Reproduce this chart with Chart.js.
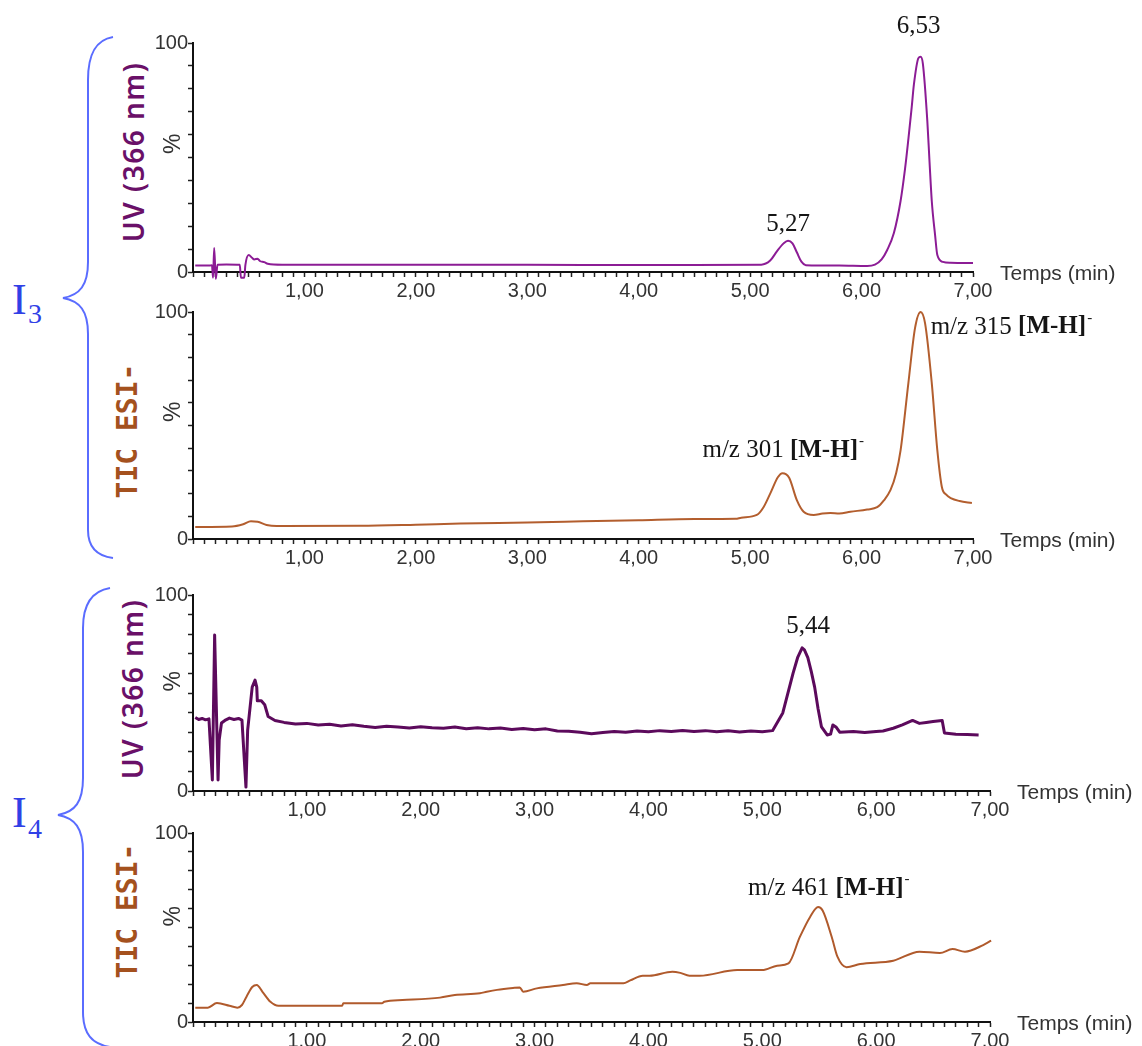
<!DOCTYPE html>
<html>
<head>
<meta charset="utf-8">
<script src="https://cdn.jsdelivr.net/npm/chart.js@4.4.1/dist/chart.umd.min.js"></script>
<style>
  html, body { margin: 0; padding: 0; background: #fff; }
  body { width: 1142px; height: 1046px; position: relative; overflow: hidden; }
  canvas { position: absolute; left: 140px; }
  .ytitle { position: absolute; transform: translate(-50%, -50%) rotate(-90deg); white-space: nowrap; line-height: 1; }
  .uv { font-family: 'Noto Sans', sans-serif; font-size: 28px; font-weight: 600; letter-spacing: 1.5px; color: #6a1068; }
  .tic { font-family: 'DejaVu Sans Mono', monospace; font-size: 28px; font-weight: bold; color: #a4511e; }
  .iname { position: absolute; font-family: 'Liberation Serif', serif; color: #3040e6; line-height: 1; }
</style>
</head>
<body>

<svg width="140" height="1046" style="position:absolute;left:0;top:0">
  <path d="M113,37 C95,40 88,55 88,80 L88,262 C88,285 80,295 63,298 C80,301 88,311 88,334 L88,530 C88,548 97,556 113,558"
        fill="none" stroke="#5a6cff" stroke-width="2"/>
  <path d="M110,588 C92,591 83,604 83,628 L83,778 C83,802 75,812 58,815 C75,818 83,828 83,852 L83,1012 C83,1034 92,1044 110,1047"
        fill="none" stroke="#5a6cff" stroke-width="2"/>
</svg>

<span class="iname" style="left:12px;top:278px;font-size:44px">I</span>
<span class="iname" style="left:28px;top:300px;font-size:28px">3</span>
<span class="iname" style="left:12px;top:791px;font-size:44px">I</span>
<span class="iname" style="left:28px;top:815px;font-size:28px">4</span>

<div class="ytitle uv" style="left:133px;top:152px">UV (366 nm)</div>
<div class="ytitle tic" style="left:128px;top:431px">TIC ESI-</div>
<div class="ytitle uv" style="left:132px;top:689px">UV (366 nm)</div>
<div class="ytitle tic" style="left:128px;top:911px">TIC ESI-</div>

<canvas id="i3uv" width="1000" height="310" style="top:0px"></canvas>
<canvas id="i3tic" width="1000" height="285" style="top:295px"></canvas>
<canvas id="i4uv" width="1000" height="250" style="top:575px"></canvas>
<canvas id="i4tic" width="1000" height="231" style="top:815px"></canvas>

<script>
// axis labels
const timeTickLabels = ['1,00', '2,00', '3,00', '4,00', '5,00', '6,00', '7,00'];
const pctTickLabels = { 0: '0', 100: '100' };

// I3 - UV (366 nm)
const i3UvTime = [0.02, 0.15, 0.17, 0.18, 0.19, 0.205, 0.22, 0.30, 0.42, 0.43, 0.46, 0.47, 0.50, 0.53, 0.55, 0.58,
  0.60, 0.64, 0.67, 0.80, 1.5, 2.5, 3.5, 4.5, 5.10, 5.18, 5.24, 5.30, 5.34, 5.38, 5.42, 5.46, 5.50, 5.80, 6.05,
  6.12, 6.18, 6.23, 6.29, 6.35, 6.39, 6.42, 6.45, 6.47, 6.51, 6.53, 6.55, 6.59, 6.61, 6.63, 6.66, 6.68, 6.73, 6.80, 7.0];
const i3UvPct = [2.8, 2.8, 3.0, -2.5, 10.5, -3.0, 3.2, 3.3, 3.2, -2.5, -2.5, 3.0, 7.4, 6.2, 5.5, 5.8,
  4.8, 4.3, 3.6, 3.2, 3.2, 3.2, 3.1, 3.1, 3.2, 5.0, 9.0, 12.5, 13.7, 12.5, 8.5, 4.5, 3.0, 2.8, 2.6,
  3.2, 5.5, 9.6, 17, 31, 45, 58, 72, 82, 93.4, 94, 91, 66, 48, 31, 16, 7.4, 4.4, 4.0, 3.9];
const i3UvPeakTimes = [5.34, 6.53];
const i3UvPeakLabels = ['5,27', '6,53'];

// I3 - TIC ESI-
const i3TicTime = [0.02, 0.35, 0.45, 0.52, 0.58, 0.66, 0.75, 1.5, 2.0, 2.4, 3.0, 3.5, 4.0, 4.5, 4.87, 4.92, 5.06,
  5.12, 5.18, 5.25, 5.29, 5.35, 5.42, 5.48, 5.57, 5.65, 5.72, 5.80, 5.90, 6.05, 6.14, 6.20, 6.26, 6.31, 6.35,
  6.42, 6.48, 6.53, 6.57, 6.63, 6.68, 6.72, 6.76, 6.80, 6.88, 6.99];
const i3TicPct = [5.3, 5.5, 6.5, 7.8, 7.6, 6.2, 5.7, 5.8, 6.3, 6.8, 7.3, 7.8, 8.3, 8.8, 8.9, 9.4, 10.6,
  14, 20, 27.3, 29, 27, 17, 12, 10.6, 11.2, 11.4, 11.2, 12, 13, 14, 17, 21.6, 29, 39,
  68.7, 93, 100, 95, 68.7, 39, 23, 19.5, 18, 16.7, 15.9];
const i3TicPeakTimes = [5.29, 6.53];
const i3TicPeakIons = ['m/z 301 ', 'm/z 315 '];

// I4 - UV (366 nm)
const i4UvTime = [0.02, 0.05, 0.08, 0.11, 0.14, 0.17, 0.19, 0.22, 0.23, 0.25, 0.28, 0.32, 0.36, 0.40, 0.43,
  0.465, 0.48, 0.52, 0.545, 0.56, 0.565, 0.60, 0.63, 0.66, 0.72, 0.80, 0.90, 1.0, 1.1, 1.2, 1.3, 1.4, 1.5,
  1.6, 1.7, 1.8, 1.9, 2.0, 2.1, 2.2, 2.3, 2.4, 2.5, 2.6, 2.7, 2.8, 2.9, 3.0, 3.1, 3.2, 3.3, 3.4, 3.5, 3.6,
  3.7, 3.8, 3.9, 4.0, 4.1, 4.2, 4.3, 4.4, 4.5, 4.6, 4.7, 4.8, 4.9, 5.0, 5.09, 5.18, 5.27, 5.31, 5.35, 5.37,
  5.40, 5.43, 5.46, 5.49, 5.52, 5.57, 5.60, 5.62, 5.65, 5.68, 5.80, 5.90, 6.0, 6.06, 6.15, 6.23, 6.32,
  6.38, 6.44, 6.50, 6.58, 6.60, 6.70, 6.80, 6.90];
const i4UvPct = [37.5, 36.5, 37.0, 36.3, 36.8, 5.6, 79.6, 5.6, 26, 34.7, 36, 37.2, 36.5, 37, 36.2,
  2, 31, 53, 56.6, 53, 46, 46, 44, 38, 36, 35, 34.2, 34.5, 33.7, 34, 33.2, 33.8, 33,
  32.4, 33, 32.7, 32.2, 32.8, 32.3, 32, 32.6, 31.8, 32.3, 31.7, 32.1, 31.4, 31.9, 31.2, 31.7, 30.6, 30.5, 30.0, 29.2, 29.8,
  30.4, 30.0, 30.6, 30.2, 30.8, 30.3, 30.9, 30.4, 30.8, 30.2, 30.7, 30.1, 30.6, 30.2, 30.8, 39.8, 60, 68, 73, 72,
  68, 61, 53, 42, 32.7, 28.6, 29, 33.7, 32.5, 30, 30.3, 29.8, 30.4, 30.6, 32, 33.7, 36,
  34.5, 35, 35.5, 36, 29.6, 29, 28.8, 28.6];
const i4UvPeakTimes = [5.35];
const i4UvPeakLabels = ['5,44'];

// I4 - TIC ESI-
const i4TicTime = [0.02, 0.13, 0.21, 0.32, 0.39, 0.43, 0.47, 0.52, 0.56, 0.61, 0.68, 0.75, 1.31, 1.32, 1.66,
  1.68, 1.84, 2.17, 2.30, 2.52, 2.58, 2.67, 2.81, 2.87, 2.90, 3.02, 3.25, 3.37, 3.46, 3.49, 3.78, 3.84, 3.95,
  4.01, 4.21, 4.28, 4.36, 4.45, 4.78, 5.0, 5.13, 5.23, 5.33, 5.42, 5.49, 5.53, 5.61, 5.66, 5.74, 5.86, 6.15,
  6.38, 6.56, 6.67, 6.78, 6.94, 7.01];
const i4TicPct = [7.6, 7.6, 10, 8.6, 7.6, 9, 13.4, 18.5, 19.6, 16, 10.7, 8.6, 8.6, 9.9, 9.9,
  10.7, 11.6, 12.9, 14.3, 15.2, 16, 17, 18, 18.3, 16, 17.8, 19.6, 20.5, 19.6, 20.5, 20.5, 22, 24.5,
  24.5, 26.6, 26.0, 24.5, 24.5, 27.5, 27.5, 29.8, 31, 45, 55.6, 60.8, 59, 45, 34.6, 29, 30.7, 32.4,
  37.2, 36.5, 38.6, 37.2, 40.7, 43];
const i4TicPeakTimes = [5.49];
const i4TicPeakIons = ['m/z 461 '];

function formatTime(v) {
  const r = Math.round(v);
  if (Math.abs(v - r) > 1e-6 || r < 1) return '';
  return timeTickLabels[r - 1];
}

function formatPct(v) {
  return pctTickLabels[Math.round(v)] || '';
}

const chromLabels = {
  id: 'chromLabels',
  afterDatasetsDraw(chart, args, opts) {
    const { ctx, chartArea, scales: { x, y } } = chart;
    const ds = chart.data.datasets[0].data;
    ctx.save();
    ctx.fillStyle = '#333';
    ctx.textBaseline = 'middle';

    // % on the y axis
    ctx.save();
    ctx.translate(chartArea.left - 19, y.getPixelForValue(56));
    ctx.rotate(-Math.PI / 2);
    ctx.textAlign = 'center';
    ctx.font = '23px "Liberation Sans"';
    ctx.fillText('%', 0, 0);
    ctx.restore();

    // time axis title
    ctx.textAlign = 'left';
    ctx.font = '21px "Liberation Sans"';
    ctx.fillText('Temps (min)', chartArea.right + 27, chartArea.bottom + 2);

    // peak labels
    ctx.fillStyle = '#151515';
    (opts.peaks || []).forEach(p => {
      let best = ds[0];
      ds.forEach(d => { if (Math.abs(d.x - p.t) < Math.abs(best.x - p.t)) best = d; });
      const px = x.getPixelForValue(best.x) + p.dx;
      const py = y.getPixelForValue(best.y) + p.dy;
      const fontOf = part => part.sup ? '15px "Liberation Serif"'
        : (part.bold ? 'bold 25px "Liberation Serif"' : '25px "Liberation Serif"');
      let total = 0;
      p.parts.forEach(part => { ctx.font = fontOf(part); total += ctx.measureText(part.text).width; });
      let cx = p.align === 'center' ? px - total / 2 : px;
      p.parts.forEach(part => {
        ctx.font = fontOf(part);
        ctx.fillText(part.text, cx, part.sup ? py - 9 : py);
        cx += ctx.measureText(part.text).width + (part.bold ? 1 : 0);
      });
    });
    ctx.restore();
  }
};

function ionParts(ion) {
  return [{ text: ion }, { text: '[M-H]', bold: true }, { text: '-', sup: true }];
}

function makeChart(id, times, values, color, width, smooth, box, peaks) {
  const ctx = document.getElementById(id).getContext('2d');
  return new Chart(ctx, {
    type: 'line',
    data: {
      datasets: [{
        data: times.map((t, i) => ({ x: t, y: values[i] })),
        borderColor: color,
        borderWidth: width,
        pointRadius: 0,
        tension: 0,
        cubicInterpolationMode: smooth ? 'monotone' : 'default',
        borderJoinStyle: 'round',
        fill: false,
        clip: false
      }]
    },
    options: {
      responsive: false,
      animation: false,
      devicePixelRatio: 1,
      layout: { padding: { top: box.top, right: box.right, left: 0, bottom: 0 } },
      plugins: { legend: { display: false }, tooltip: { enabled: false }, chromLabels: { peaks } },
      scales: {
        x: {
          type: 'linear',
          min: 0,
          max: 7,
          afterFit: s => { s.height = box.xh; },
          border: { color: '#111', width: 2 },
          grid: { drawOnChartArea: false, drawTicks: true, tickLength: 5, color: '#222', tickWidth: 1.5 },
          ticks: {
            stepSize: 0.1,
            autoSkip: false,
            maxRotation: 0,
            minRotation: 0,
            padding: 2,
            color: '#333',
            font: { family: 'Liberation Sans', size: 20 },
            callback: formatTime
          }
        },
        y: {
          min: 0,
          max: 100,
          afterFit: s => { s.width = 53; },
          border: { color: '#111', width: 2 },
          grid: { drawOnChartArea: false, drawTicks: true, tickLength: 5, color: '#222', tickWidth: 1.5 },
          ticks: {
            stepSize: 10,
            autoSkip: false,
            padding: 0,
            color: '#333',
            font: { family: 'Liberation Sans', size: 20 },
            callback: formatPct
          }
        }
      }
    },
    plugins: [chromLabels]
  });
}

makeChart('i3uv', i3UvTime, i3UvPct, '#8c1c95', 2, true, { top: 43, right: 167, xh: 38 }, [
  { t: i3UvPeakTimes[0], parts: [{ text: i3UvPeakLabels[0] }], dx: 0, dy: -16, align: 'center' },
  { t: i3UvPeakTimes[1], parts: [{ text: i3UvPeakLabels[1] }], dx: -2, dy: -30, align: 'center' }
]);

makeChart('i3tic', i3TicTime, i3TicPct, '#b35e2e', 2, true, { top: 17, right: 167, xh: 41 }, [
  { t: i3TicPeakTimes[0], parts: ionParts(i3TicPeakIons[0]), dx: -80, dy: -23, align: 'left' },
  { t: i3TicPeakTimes[1], parts: ionParts(i3TicPeakIons[1]), dx: 10, dy: 15, align: 'left' }
]);

makeChart('i4uv', i4UvTime, i4UvPct, '#5c0a5c', 3, false, { top: 20, right: 150, xh: 34 }, [
  { t: i4UvPeakTimes[0], parts: [{ text: i4UvPeakLabels[0] }], dx: 6, dy: -21, align: 'center' }
]);

makeChart('i4tic', i4TicTime, i4TicPct, '#b05a2c', 2, true, { top: 18, right: 150, xh: 24 }, [
  { t: i4TicPeakTimes[0], parts: ionParts(i4TicPeakIons[0]), dx: -70, dy: -19, align: 'left' }
]);
</script>
</body>
</html>
